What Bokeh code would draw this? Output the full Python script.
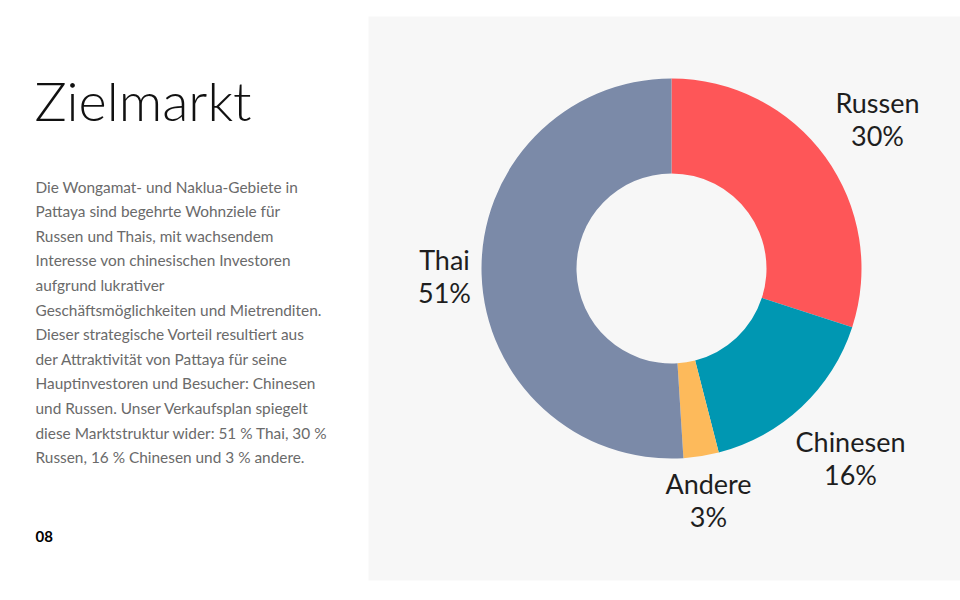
from bokeh.plotting import figure
from bokeh.models import Range1d, ColumnDataSource
from bokeh.core.properties import value
from bokeh.embed import file_html
from bokeh.resources import INLINE
import math

# ---- data ----
categories = ["Russen", "Chinesen", "Andere", "Thai"]
shares = [30, 16, 3, 51]
colors = ["#fe5658", "#0097b2", "#fdba5b", "#7b8aa8"]
pct_labels = ["30%", "16%", "3%", "51%"]

title_text = "Zielmarkt"
body_lines = [
    "Die Wongamat- und Naklua-Gebiete in",
    "Pattaya sind begehrte Wohnziele für",
    "Russen und Thais, mit wachsendem",
    "Interesse von chinesischen Investoren",
    "aufgrund lukrativer",
    "Geschäftsmöglichkeiten und Mietrenditen.",
    "Dieser strategische Vorteil resultiert aus",
    "der Attraktivität von Pattaya für seine",
    "Hauptinvestoren und Besucher: Chinesen",
    "und Russen. Unser Verkaufsplan spiegelt",
    "diese Marktstruktur wider: 51 % Thai, 30 %",
    "Russen, 16 % Chinesen und 3 % andere.",
]
page_number = "08"

W, H = 960, 600
def Y(py):
    return H - py

p = figure(width=W, height=H, x_range=Range1d(0, W), y_range=Range1d(0, H),
           output_backend="svg", toolbar_location=None, min_border=0,
           background_fill_color="white", border_fill_color="white")
p.axis.visible = False
p.grid.visible = False
p.outline_line_color = None

# grey panel
p.quad(left=368, right=960, top=Y(16), bottom=Y(580), fill_color="#f7f7f7", line_color=None)

# donut
total = sum(shares)
starts, ends = [], []
cum = 0
for s in shares:
    starts.append(math.pi / 2 - cum / total * 2 * math.pi)
    cum += s
    ends.append(math.pi / 2 - cum / total * 2 * math.pi)
src = ColumnDataSource(dict(cat=categories, start=starts, end=ends, color=colors))
cx, cy = 671, Y(268)
p.annular_wedge(x=cx, y=cy, inner_radius=95, outer_radius=190, start_angle="start", end_angle="end",
                direction="clock", fill_color="color", line_color=None, source=src)

# slice labels (layout positions in pixels)
label_pos = {"Russen": (877, 102), "Chinesen": (850, 441), "Andere": (708, 483), "Thai": (444, 259)}
lx, ly, lt = [], [], []
for c, pl in zip(categories, pct_labels):
    x0, y0 = label_pos[c]
    lx += [x0, x0]
    ly += [Y(y0), Y(y0 + 33)]
    lt += [c, pl]
p.text(x=lx, y=ly, text=lt, text_align="center", text_baseline="middle",
       text_font=value("Lato"), text_font_size="27px", text_color="#1e1e1e")

# title
p.text(x=[34], y=[Y(100)], text=[title_text], text_align="left", text_baseline="middle",
       text_font=value("Lato Light"), text_font_size="54px", text_color="#111111")

# body
p.text(x=[35] * len(body_lines), y=[Y(186 + 24.6 * i) for i in range(len(body_lines))],
       text=body_lines, text_align="left", text_baseline="middle",
       text_font=value("Lato"), text_font_size="15.4px", text_color="#6a6a6a")

# page number
p.text(x=[35], y=[Y(536)], text=[page_number], text_align="left", text_baseline="middle",
       text_font=value("Lato"), text_font_style="bold", text_font_size="15px", text_color="#000000")

open("out.html", "w").write(file_html(p, INLINE))
